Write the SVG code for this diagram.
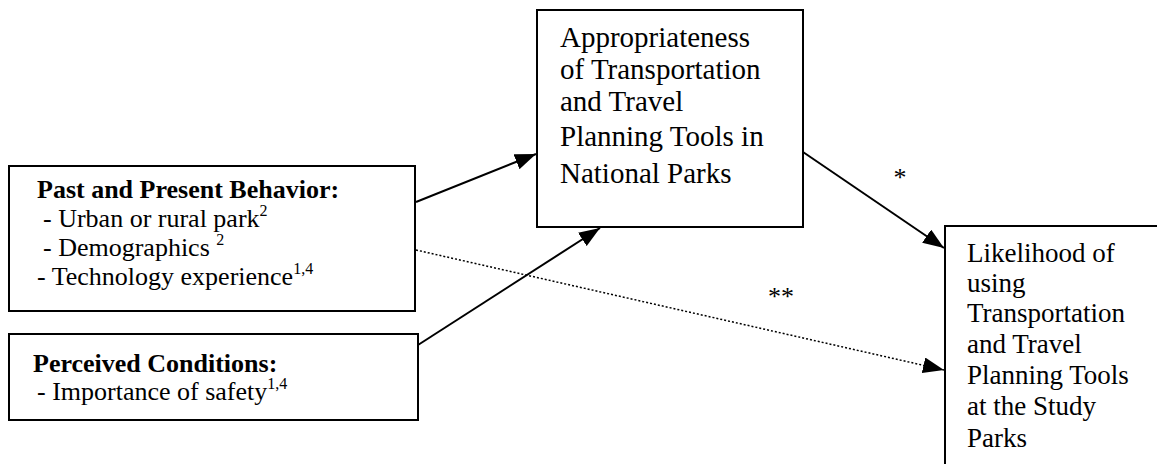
<svg xmlns="http://www.w3.org/2000/svg" width="1157" height="464" viewBox="0 0 1157 464">
<style>
.box{fill:#fff;stroke:#000;stroke-width:2}
.t{font-family:"Liberation Serif","Times New Roman",serif;fill:#000}
.b{font-weight:bold}
.sup{font-family:"Liberation Serif","Times New Roman",serif;font-size:16px}
.c{stroke:#000;stroke-width:2;fill:none}
.d{stroke:#000;stroke-width:1.5;fill:none;stroke-dasharray:2 2}
</style>
<defs>
<marker id="ah" markerUnits="userSpaceOnUse" markerWidth="22" markerHeight="16" refX="21" refY="8" orient="auto">
<path d="M0,0 L21,8 L0,16 z" fill="#000"/>
</marker>
</defs>
<g id="past-behavior">
<rect class="box" x="9" y="166" width="406" height="145"/>
<text class="t b" x="37" y="198" font-size="26">Past and Present Behavior:</text>
<text class="t" font-size="26"><tspan x="43" y="227">- Urban or rural park</tspan><tspan class="sup" dy="-11">2</tspan></text>
<text class="t" font-size="26"><tspan x="43" y="256">- Demographics </tspan><tspan class="sup" dy="-11">2</tspan></text>
<text class="t" font-size="26"><tspan x="37" y="285">- Technology experience</tspan><tspan class="sup" dy="-11">1,4</tspan></text>
</g>
<g id="perceived-conditions">
<rect class="box" x="9" y="334" width="409" height="86"/>
<text class="t b" x="33" y="372" font-size="26">Perceived Conditions:</text>
<text class="t" font-size="26"><tspan x="37" y="400">- Importance of safety</tspan><tspan class="sup" dy="-11">1,4</tspan></text>
</g>
<g id="appropriateness">
<rect class="box" x="537" y="10" width="266" height="217"/>
<text class="t" font-size="29">
<tspan x="560" y="47">Appropriateness</tspan>
<tspan x="560" y="79">of Transportation</tspan>
<tspan x="560" y="111">and Travel</tspan>
<tspan x="560" y="146">Planning Tools in</tspan>
<tspan x="560" y="183">National Parks</tspan>
</text>
</g>
<g id="likelihood">
<rect class="box" x="945" y="226" width="230" height="260"/>
<text class="t" font-size="27">
<tspan x="967" y="262">Likelihood of</tspan>
<tspan x="967" y="292">using</tspan>
<tspan x="967" y="322">Transportation</tspan>
<tspan x="967" y="353">and Travel</tspan>
<tspan x="967" y="384">Planning Tools</tspan>
<tspan x="967" y="415">at the Study</tspan>
<tspan x="967" y="447">Parks</tspan>
</text>
</g>
<g id="connectors">
<line class="c" x1="416" y1="202" x2="536" y2="154" marker-end="url(#ah)"/>
<line class="c" x1="418" y1="345" x2="600" y2="228" marker-end="url(#ah)"/>
<line class="d" x1="416" y1="250" x2="944" y2="370" marker-end="url(#ah)"/>
<line class="c" x1="803" y1="152" x2="944" y2="248" marker-end="url(#ah)"/>
<text class="t" x="900" y="186" font-size="26" text-anchor="middle">*</text>
<text class="t" x="781" y="305" font-size="26" text-anchor="middle">**</text>
</g>
</svg>
